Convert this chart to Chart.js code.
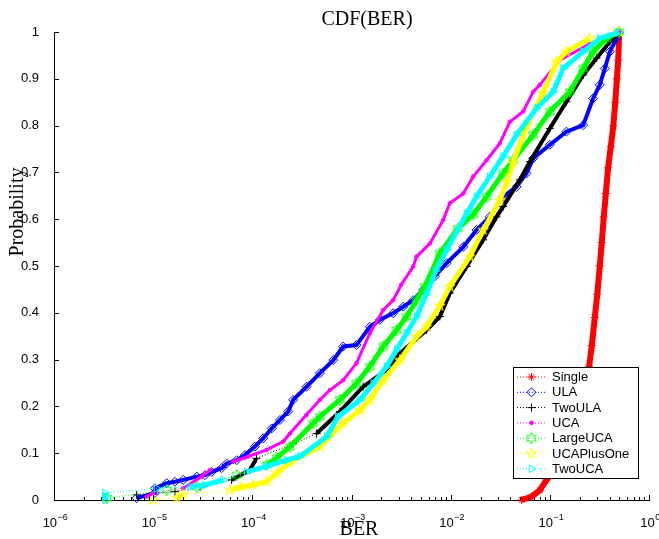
<!DOCTYPE html>
<html>
<head>
<meta charset="utf-8">
<script src="https://cdn.jsdelivr.net/npm/chart.js"></script>
<style>
  body { margin: 0; background: #fff; }
  #wrap { width: 659px; height: 539px; }
</style>
</head>
<body>
<div id="wrap"><canvas id="cdf" width="659" height="539"></canvas></div>
<script>
// BER values, with the CDF level of each one
const singleBer = [0.0519, 0.0654, 0.0793, 0.0926, 0.115, 0.142, 0.171, 0.201, 0.225, 0.249, 0.265, 0.284, 0.301, 0.319, 0.334, 0.350, 0.367, 0.387, 0.412, 0.437, 0.457, 0.474, 0.490, 0.5];
const singleProb = [0, 0.007, 0.021, 0.043, 0.07, 0.11, 0.16, 0.21, 0.25, 0.285, 0.33, 0.39, 0.44, 0.50, 0.55, 0.605, 0.655, 0.71, 0.755, 0.80, 0.85, 0.9, 0.94, 1.0];

const ulaBer = [6.82e-6, 1.04e-5, 1.04e-5, 1.37e-5, 1.66e-5, 2.01e-5, 2.75e-5, 3.33e-5, 3.89e-5, 4.90e-5, 5.51e-5, 6.95e-5, 8.41e-5, 1.06e-4, 1.29e-4, 1.57e-4, 1.90e-4, 2.30e-4, 2.58e-4, 3.52e-4, 4.80e-4, 6.55e-4, 8.24e-4, 1.12e-3, 1.53e-3, 1.93e-3, 2.63e-3, 3.32e-3, 4.19e-3, 5.28e-3, 6.93e-3, 9.10e-3, 1.34e-2, 1.82e-2, 2.48e-2, 3.38e-2, 4.61e-2, 5.82e-2, 6.79e-2, 0.1, 0.147, 0.217, 0.273, 0.319, 0.358, 0.403, 0.470, 0.5];
const ulaProb = [0.004, 0.015, 0.025, 0.036, 0.039, 0.043, 0.05, 0.053, 0.06, 0.068, 0.078, 0.085, 0.096, 0.114, 0.132, 0.153, 0.171, 0.189, 0.214, 0.242, 0.271, 0.299, 0.328, 0.331, 0.37, 0.385, 0.399, 0.413, 0.427, 0.449, 0.478, 0.506, 0.541, 0.577, 0.605, 0.648, 0.669, 0.698, 0.73, 0.759, 0.787, 0.801, 0.858, 0.887, 0.922, 0.958, 0.986, 1.0];

const twoUlaBer = [6.82e-6, 1.66e-5, 2.97e-5, 6.18e-5, 9.46e-5, 1.10e-4, 2.57e-4, 4.45e-4, 7.64e-4, 1.31e-3, 2.26e-3, 3.08e-3, 5.72e-3, 7.78e-3, 9.81e-3, 1.45e-2, 2.13e-2, 2.90e-2, 3.38e-2, 4.98e-2, 6.29e-2, 0.1, 0.147, 0.217, 0.296, 0.403, 0.5];
const twoUlaProb = [0.011, 0.018, 0.028, 0.043, 0.064, 0.089, 0.12, 0.142, 0.189, 0.242, 0.278, 0.313, 0.363, 0.392, 0.442, 0.499, 0.556, 0.605, 0.627, 0.684, 0.723, 0.794, 0.851, 0.908, 0.944, 0.979, 1.0];

const ucaBer = [8.60e-6, 1.00e-5, 2.01e-5, 3.08e-5, 3.74e-5, 6.42e-5, 9.09e-5, 1.39e-4, 2.05e-4, 2.39e-4, 3.52e-4, 4.80e-4, 6.06e-4, 8.25e-4, 1.12e-3, 1.53e-3, 2.09e-3, 2.63e-3, 3.18e-3, 4.19e-3, 4.53e-3, 6.17e-3, 8.40e-3, 9.81e-3, 1.34e-2, 1.69e-2, 2.30e-2, 3.13e-2, 3.95e-2, 5.38e-2, 6.79e-2, 7.93e-2, 0.126, 0.253, 0.5];
const ucaProb = [0.007, 0.014, 0.025, 0.05, 0.064, 0.082, 0.093, 0.107, 0.125, 0.142, 0.182, 0.214, 0.235, 0.256, 0.292, 0.356, 0.406, 0.427, 0.46, 0.499, 0.52, 0.548, 0.598, 0.634, 0.655, 0.691, 0.726, 0.762, 0.808, 0.83, 0.872, 0.887, 0.94, 0.975, 1.0];

const largeUcaBer = [3.42e-6, 1.37e-5, 2.75e-5, 6.95e-5, 1.39e-4, 1.76e-4, 2.39e-4, 4.11e-4, 4.80e-4, 7.64e-4, 1.12e-3, 1.53e-3, 2.09e-3, 2.85e-3, 3.59e-3, 4.53e-3, 5.50e-3, 7.78e-3, 1.18e-2, 1.69e-2, 2.30e-2, 3.38e-2, 4.27e-2, 6.79e-2, 0.1, 0.159, 0.217, 0.273, 0.373, 0.5];
const largeUcaProb = [0.004, 0.021, 0.028, 0.053, 0.075, 0.09, 0.114, 0.164, 0.178, 0.214, 0.249, 0.285, 0.328, 0.363, 0.392, 0.427, 0.456, 0.527, 0.58, 0.61, 0.648, 0.698, 0.726, 0.78, 0.83, 0.872, 0.922, 0.958, 0.986, 1.0];

const ucaPlusOneBer = [1.00e-5, 1.73e-5, 2.01e-5, 5.95e-5, 7.80e-5, 1.02e-4, 1.39e-4, 1.76e-4, 2.39e-4, 4.80e-4, 8.25e-4, 1.22e-3, 1.53e-3, 2.09e-3, 3.08e-3, 4.53e-3, 5.72e-3, 7.78e-3, 9.81e-3, 1.56e-2, 2.13e-2, 3.13e-2, 3.69e-2, 4.24e-2, 5.86e-2, 8.50e-2, 0.117, 0.147, 0.253, 0.5];
const ucaPlusOneProb = [0, 0.004, 0.011, 0.021, 0.028, 0.032, 0.039, 0.057, 0.08, 0.114, 0.164, 0.192, 0.214, 0.256, 0.299, 0.349, 0.37, 0.415, 0.456, 0.52, 0.577, 0.64, 0.68, 0.72, 0.80, 0.87, 0.936, 0.958, 0.986, 1.0];

const twoUcaBer = [3.27e-6, 3.27e-6, 3.27e-6, 1.08e-5, 2.35e-5, 3.33e-5, 5.09e-5, 8.76e-5, 1.39e-4, 2.22e-4, 3.02e-4, 5.61e-4, 7.29e-4, 1.22e-3, 1.66e-3, 2.26e-3, 2.85e-3, 3.59e-3, 4.53e-3, 5.72e-3, 7.09e-3, 9.10e-3, 1.45e-2, 1.82e-2, 2.48e-2, 3.38e-2, 4.61e-2, 7.34e-2, 0.108, 0.136, 0.217, 0.319, 0.5];
const twoUcaProb = [0, 0.008, 0.015, 0.025, 0.028, 0.032, 0.043, 0.06, 0.072, 0.085, 0.093, 0.135, 0.178, 0.214, 0.249, 0.285, 0.321, 0.356, 0.392, 0.44, 0.49, 0.534, 0.612, 0.648, 0.691, 0.734, 0.78, 0.837, 0.872, 0.922, 0.958, 0.986, 1.0];

const seriesNames = ['Single', 'ULA', 'TwoULA', 'UCA', 'LargeUCA', 'UCAPlusOne', 'TwoUCA'];
const seriesColors = ['#ff0000', '#0000ff', '#000000', '#ff00ff', '#00ff00', '#ffff00', '#00ffff'];
const yTicks = [0, 0.1, 0.2, 0.3, 0.4, 0.5, 0.6, 0.7, 0.8, 0.9, 1];
const xDecades = [-6, -5, -4, -3, -2, -1, 0];

// hexagram / pentagram markers (matlab 'h' and 'p')
function makeStar(n, rOut, rIn, color) {
  const c = document.createElement('canvas');
  const s = Math.ceil(rOut * 2 + 3);
  c.width = s; c.height = s;
  const g = c.getContext('2d');
  g.strokeStyle = color;
  g.lineWidth = 1;
  g.beginPath();
  for (let i = 0; i < 2 * n; i++) {
    const r = i % 2 === 0 ? rOut : rIn;
    const a = -Math.PI / 2 + i * Math.PI / n;
    const x = s / 2 + r * Math.cos(a), y = s / 2 + r * Math.sin(a);
    if (i === 0) g.moveTo(x, y); else g.lineTo(x, y);
  }
  g.closePath();
  g.stroke();
  return c;
}
const hexagram = makeStar(6, 5.5, 5.5 / Math.sqrt(3), '#00ff00');
const pentagram = makeStar(5, 5.5, 5.5 * 0.382, '#ffff00');

const pointStyles = ['star', 'rectRot', 'cross', 'circle', hexagram, pentagram, 'triangle'];
const pointSizes = [4, 4.5, 4, 1.8, 5, 5, 4.5];
const pointRot = [0, 0, 0, 0, 0, 0, 90];
const lineWidths = [6, 4, 4, 3, 5, 5, 5];

const berData = [singleBer, ulaBer, twoUlaBer, ucaBer, largeUcaBer, ucaPlusOneBer, twoUcaBer];
const probData = [singleProb, ulaProb, twoUlaProb, ucaProb, largeUcaProb, ucaPlusOneProb, twoUcaProb];

// long flat jumps between sparse samples keep matlab's thin dotted line
function sparseGap(ctx) {
  const dx = Math.abs(ctx.p1.x - ctx.p0.x), dy = Math.abs(ctx.p1.y - ctx.p0.y);
  return dx > 22 && dy < dx * 0.5;
}

const datasets = seriesNames.map(function (name, i) {
  return {
    label: name,
    data: berData[i].map(function (b, j) { return { x: b, y: probData[i][j] }; }),
    showLine: true,
    borderColor: seriesColors[i],
    borderWidth: lineWidths[i],
    segment: {
      borderWidth: function (ctx) { return sparseGap(ctx) ? 1 : undefined; },
      borderDash: function (ctx) { return sparseGap(ctx) ? [1, 2] : undefined; }
    },
    pointStyle: pointStyles[i],
    pointRadius: pointSizes[i],
    pointRotation: pointRot[i],
    pointBorderColor: seriesColors[i],
    pointBackgroundColor: i === 3 ? seriesColors[i] : 'rgba(0,0,0,0)',
    pointBorderWidth: 1,
    clip: false,
    order: 7 - i   // later series on top, like matlab
  };
});

const matlabAxes = {
  id: 'matlabAxes',
  afterDraw: function (chart) {
    const ctx = chart.ctx;
    const xs = chart.scales.x, ys = chart.scales.y;
    const area = chart.chartArea;
    ctx.save();
    ctx.strokeStyle = '#000';
    ctx.lineWidth = 1;
    ctx.beginPath();
    // x ticks, inward
    xDecades.forEach(function (e) {
      for (let k = 1; k <= 9; k++) {
        if (e === 0 && k > 1) break;
        const px = Math.round(xs.getPixelForValue(k * Math.pow(10, e))) + 0.5;
        ctx.moveTo(px, area.bottom);
        ctx.lineTo(px, area.bottom - (k === 1 ? 5 : 3));
      }
    });
    // y ticks, inward
    yTicks.forEach(function (v) {
      const py = Math.round(ys.getPixelForValue(v)) + 0.5;
      ctx.moveTo(area.left, py);
      ctx.lineTo(area.left + 5, py);
    });
    ctx.stroke();

    // x tick labels 10^n
    ctx.fillStyle = '#000';
    ctx.textBaseline = 'alphabetic';
    xDecades.forEach(function (e) {
      const px = xs.getPixelForValue(Math.pow(10, e));
      ctx.font = '13px "Liberation Sans", Arial, sans-serif';
      const baseW = ctx.measureText('10').width;
      ctx.font = '9px "Liberation Sans", Arial, sans-serif';
      const sup = e < 0 ? '\u2212' + (-e) : String(e);
      const supW = ctx.measureText(sup).width;
      const x0 = px - (baseW + supW) / 2 + 1;
      ctx.font = '13px "Liberation Sans", Arial, sans-serif';
      ctx.textAlign = 'left';
      ctx.fillText('10', x0, 527);
      ctx.font = '9px "Liberation Sans", Arial, sans-serif';
      ctx.fillText(sup, x0 + baseW + 0.5, 520);
    });

    // titles
    ctx.font = '20px "Liberation Serif", "Times New Roman", serif';
    ctx.textAlign = 'center';
    ctx.fillText('CDF(BER)', 367, 25);
    ctx.fillText('BER', 359, 535);
    ctx.save();
    ctx.translate(23, 212);
    ctx.rotate(-Math.PI / 2);
    ctx.fillText('Probability', 0, 0);
    ctx.restore();

    // legend box
    const lx = 513, ly = 367, lw = 125, lh = 111;
    ctx.fillStyle = '#fff';
    ctx.fillRect(lx, ly, lw, lh);
    ctx.strokeRect(lx + 0.5, ly + 0.5, lw, lh);
    ctx.font = '13px "Liberation Sans", Arial, sans-serif';
    ctx.textAlign = 'left';
    ctx.textBaseline = 'middle';
    chart.data.datasets.forEach(function (ds, i) {
      const y = ly + 10 + i * 15.3;
      ctx.save();
      ctx.strokeStyle = ds.borderColor;
      ctx.setLineDash([1, 2]);
      ctx.beginPath();
      ctx.moveTo(lx + 4, y);
      ctx.lineTo(lx + 33, y);
      ctx.stroke();
      ctx.restore();
      ctx.save();
      ctx.strokeStyle = ds.pointBorderColor;
      ctx.fillStyle = ds.pointBackgroundColor;
      ctx.lineWidth = 1;
      Chart.helpers.drawPoint(ctx, {
        pointStyle: ds.pointStyle,
        radius: ds.pointRadius,
        rotation: ds.pointRotation,
        borderWidth: 1
      }, lx + 18.5, y);
      ctx.restore();
      ctx.fillStyle = '#000';
      ctx.fillText(ds.label, lx + 39, y + 0.5);
    });
    ctx.restore();
  }
};

new Chart(document.getElementById('cdf'), {
  type: 'scatter',
  data: { datasets: datasets },
  options: {
    responsive: false,
    animation: false,
    layout: { padding: { top: 32, right: 10, left: 0, bottom: 0 } },
    plugins: {
      legend: { display: false },
      tooltip: { enabled: false },
      title: { display: false }
    },
    scales: {
      x: {
        type: 'logarithmic',
        min: 1e-6,
        max: 1,
        grid: { display: false },
        border: { color: '#000', width: 1 },
        ticks: { display: false },
        afterFit: function (s) { s.height = 39; }
      },
      y: {
        min: 0,
        max: 1,
        grid: { display: false },
        border: { color: '#000', width: 1 },
        afterBuildTicks: function (s) { s.ticks = yTicks.map(function (v) { return { value: v }; }); },
        ticks: {
          color: '#000',
          padding: 7,
          font: { family: 'Liberation Sans', size: 13 },
          callback: function (v) { return (v === 0 || v === 1) ? String(v) : v.toFixed(1); }
        },
        afterFit: function (s) { s.width = 54; }
      }
    }
  },
  plugins: [matlabAxes]
});
</script>
</body>
</html>
